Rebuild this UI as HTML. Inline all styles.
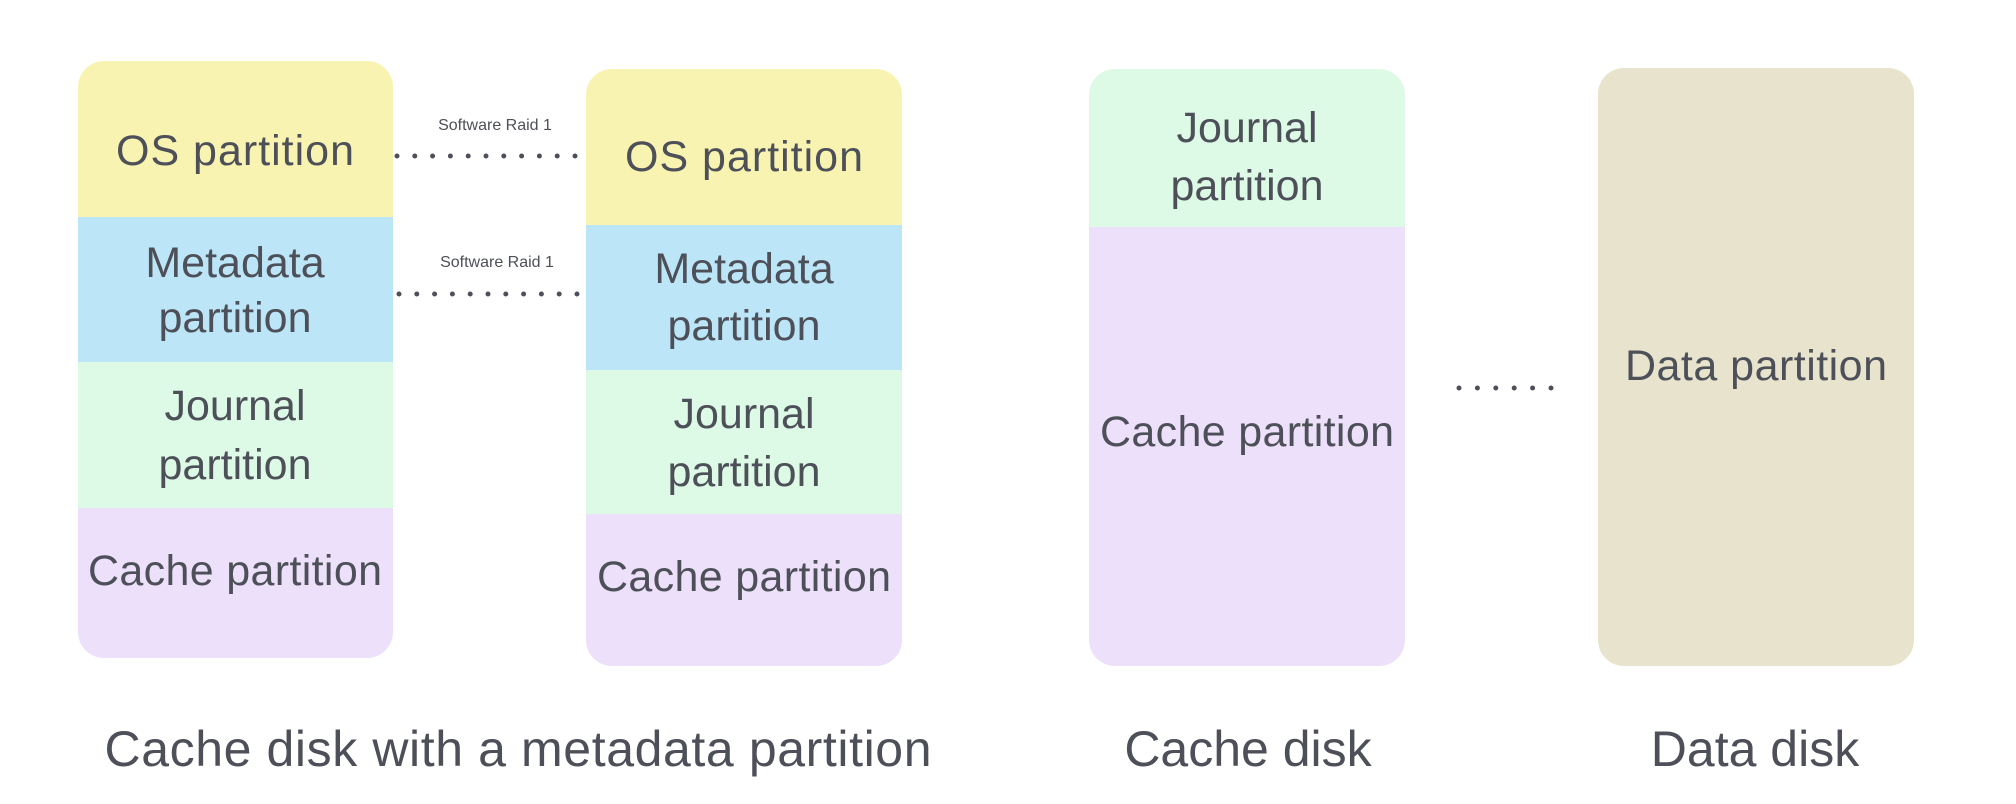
<!DOCTYPE html>
<html><head><meta charset="utf-8"><style>
html,body{margin:0;padding:0;background:#fff;}
svg{display:block;}
text{font-family:"Liberation Sans",sans-serif;fill:#4d5058;text-anchor:middle;}
.p{font-size:43px;}
.b{font-size:50px;}
.s{font-size:16px;}
</style></head><body>
<svg width="2016" height="804" viewBox="0 0 2016 804" xmlns="http://www.w3.org/2000/svg">
<defs>
<clipPath id="c1"><rect x="78" y="61" width="315" height="597" rx="26"/></clipPath>
<clipPath id="c2"><rect x="586" y="69" width="316" height="597" rx="26"/></clipPath>
<clipPath id="c3"><rect x="1089" y="69" width="316" height="597" rx="26"/></clipPath>
</defs>
<g clip-path="url(#c1)">
<rect x="78" y="61" width="315" height="156" fill="#f8f3b0"/>
<rect x="78" y="217" width="315" height="145" fill="#bce6f8"/>
<rect x="78" y="362" width="315" height="146" fill="#ddfae6"/>
<rect x="78" y="508" width="315" height="150" fill="#ede0fa"/>
</g>
<g clip-path="url(#c2)">
<rect x="586" y="69" width="316" height="156" fill="#f8f3b0"/>
<rect x="586" y="225" width="316" height="145" fill="#bce6f8"/>
<rect x="586" y="370" width="316" height="144" fill="#ddfae6"/>
<rect x="586" y="514" width="316" height="152" fill="#ede0fa"/>
</g>
<g clip-path="url(#c3)">
<rect x="1089" y="69" width="316" height="158" fill="#ddfae6"/>
<rect x="1089" y="227" width="316" height="439" fill="#ede0fa"/>
</g>
<rect x="1598" y="68" width="316" height="598" rx="26" fill="#e8e3cc"/>

<text class="p" x="235" y="165" textLength="238">OS partition</text>
<text class="p" x="235" y="277">Metadata</text>
<text class="p" x="235" y="332">partition</text>
<text class="p" x="235" y="420">Journal</text>
<text class="p" x="235" y="479">partition</text>
<text class="p" x="235" y="585" textLength="294">Cache partition</text>

<text class="p" x="744" y="171" textLength="238">OS partition</text>
<text class="p" x="744" y="283">Metadata</text>
<text class="p" x="744" y="340">partition</text>
<text class="p" x="744" y="428">Journal</text>
<text class="p" x="744" y="486">partition</text>
<text class="p" x="744" y="591" textLength="294">Cache partition</text>

<text class="p" x="1247" y="142">Journal</text>
<text class="p" x="1247" y="200">partition</text>
<text class="p" x="1247" y="446" textLength="294">Cache partition</text>

<text class="p" x="1756" y="380" textLength="262">Data partition</text>

<text class="s" x="495" y="130">Software Raid 1</text>
<text class="s" x="497" y="267">Software Raid 1</text>
<line x1="397" y1="156" x2="575" y2="156" stroke="#4d5058" stroke-width="5" stroke-linecap="round" stroke-dasharray="0 17.8"/>
<line x1="399" y1="294" x2="577" y2="294" stroke="#4d5058" stroke-width="5" stroke-linecap="round" stroke-dasharray="0 17.8"/>
<line x1="1459" y1="388" x2="1552" y2="388" stroke="#4d5058" stroke-width="5" stroke-linecap="round" stroke-dasharray="0 18.4"/>

<text class="b" x="518" y="766" textLength="827">Cache disk with a metadata partition</text>
<text class="b" x="1248" y="766">Cache disk</text>
<text class="b" x="1755" y="766">Data disk</text>
</svg>
</body></html>
